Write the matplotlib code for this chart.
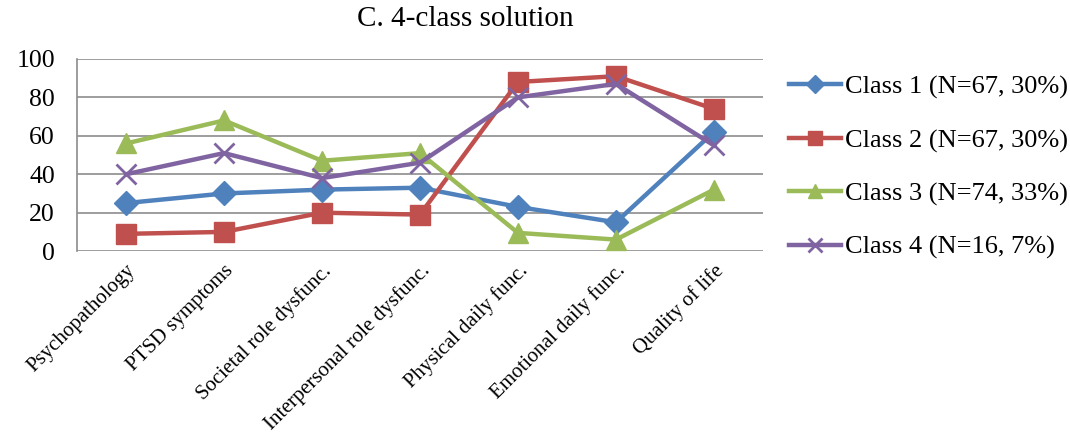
import matplotlib
matplotlib.use("Agg")
import matplotlib.pyplot as plt

categories = ["Psychopathology", "PTSD symptoms", "Societal role dysfunc.",
              "Interpersonal role dysfunc.", "Physical daily func.",
              "Emotional daily func.", "Quality of life"]
class1 = [25, 30, 32, 33, 23, 15, 62]
class2 = [9, 10, 20, 19, 88, 91, 74]
class3 = [56, 68, 47, 51, 9.5, 6, 32]
class4 = [40, 51, 38, 46, 80, 87, 55]
series_labels = ["Class 1 (N=67, 30%)", "Class 2 (N=67, 30%)",
                 "Class 3 (N=74, 33%)", "Class 4 (N=16, 7%)"]
y_ticks = [0, 20, 40, 60, 80, 100]

plt.rcParams["font.family"] = ["Liberation Serif", "DejaVu Serif"]

fig = plt.figure(figsize=(10.7, 4.33), dpi=100)
ax = fig.add_axes([0.072, 0.420, 0.641, 0.444])

styles = [
    dict(color="#4F81BD", marker="D", ms=12.5),
    dict(color="#C0504D", marker="s", ms=14),
    dict(color="#9BBB59", marker="^", ms=15),
    dict(color="#8064A2", marker="x", ms=14, mew=2),
]
x = list(range(len(categories)))
for vals, lab, st in zip([class1, class2, class3, class4], series_labels, styles):
    ax.plot(x, vals, lw=3.2, label=lab, **st)

ax.set_xlim(-0.5, len(categories) - 0.5)
ax.set_ylim(0, 100)
ax.set_yticks(y_ticks)
ax.set_yticklabels([str(v) for v in y_ticks], fontsize=18.5)
ax.yaxis.grid(True, color="#8c8c8c", lw=1.2)
ax.set_axisbelow(True)
for side in ("top", "right", "bottom"):
    ax.spines[side].set_visible(False)
ax.spines["left"].set_color("#8c8c8c")
ax.spines["left"].set_linewidth(1.2)
ax.tick_params(axis="both", length=0)
ax.tick_params(axis="y", pad=16)

ax.set_xticks(x)
ax.set_xticklabels(categories, rotation=45, ha="right", rotation_mode="anchor",
                   fontsize=15)
ax.tick_params(axis="x", pad=7)

fig.text(0.435, 0.955, "C. 4-class solution", ha="center", va="center", fontsize=21)

leg = ax.legend(loc="upper left", bbox_to_anchor=(1.022, 0.97), frameon=False,
                fontsize=19, handlelength=2.0, handletextpad=0.15,
                labelspacing=1.12, markerscale=0.7, borderaxespad=0)

fig.savefig("out.png", dpi=100)
